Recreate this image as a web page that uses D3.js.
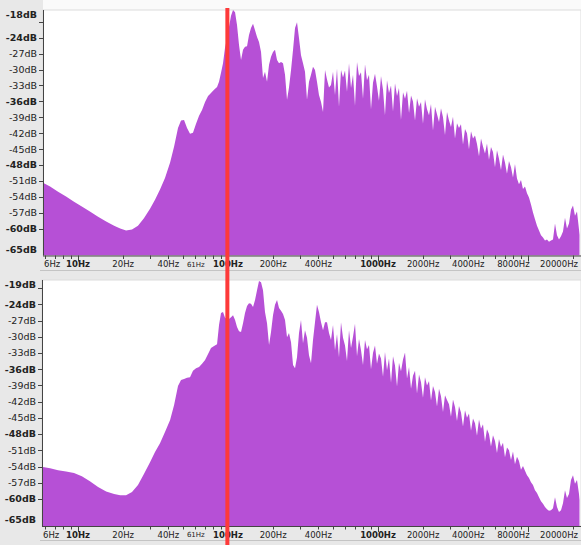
<!DOCTYPE html>
<html>
<head>
<meta charset="utf-8">
<script src="https://cdn.jsdelivr.net/npm/d3@7"></script>
<style>
  html, body { margin: 0; padding: 0; background: #fff; }
  svg { display: block; font-family: "DejaVu Sans", sans-serif; }
</style>
</head>
<body>
<svg id="chart" width="581" height="545"></svg>
<script>
// Frequency bins (Hz) shared by both spectra
const freqs = [
  5.84, 6.51, 7.36, 8.32, 9.40, 10.6, 12.0, 13.6, 15.4, 17.4, 19.1, 20.9, 22.9, 25.1, 27.5, 30.2, 32.6, 35.2, 38.0, 41.1,
  43.7, 46.4, 48.6, 50.9, 53.3, 55.8, 58.4, 61.2, 64.1, 67.1, 70.3, 73.6, 77.0, 80.7, 84.5, 87.1, 89.8, 92.6, 95.5, 98.5,
  101.5, 104.7, 108.0, 111.4, 114.8, 118.4, 122.1, 125.9, 129.8, 133.9,
  138.0, 142.3, 146.8, 151.4, 156.1, 160.9, 166.0, 171.1, 176.4, 182.0,
  187.7, 193.5, 199.5, 205.7, 212.2, 218.8, 225.6, 232.6, 239.9, 247.4,
  255.0, 263.1, 271.3, 279.7, 288.4, 297.4, 306.6, 316.2, 326.0, 336.2,
  346.7, 357.5, 368.6, 380.1, 391.9, 404.1, 416.9, 429.9, 443.3, 457.1,
  471.3, 486.0, 501.2, 516.8, 532.9, 549.5, 566.6, 584.3, 602.6, 621.3,
  640.7, 660.7, 681.3, 702.5, 724.4, 747.0, 770.3, 794.3, 819.0, 844.5,
  870.9, 898.0, 926.0, 954.9, 984.7, 1015, 1047, 1080, 1113, 1148,
  1184, 1221, 1259, 1298, 1339, 1380, 1423, 1468, 1514, 1561,
  1610, 1660, 1711, 1765, 1820, 1877, 1935, 1995, 2057, 2122,
  2188, 2256, 2326, 2399, 2474, 2551, 2630, 2712, 2797, 2884,
  2974, 3066, 3162, 3261, 3362, 3467, 3575, 3687, 3802, 3920,
  4042, 4169, 4299, 4433, 4571, 4714, 4861, 5012, 5168, 5329,
  5495, 5666, 5843, 6026, 6213, 6407, 6607, 6813, 7025, 7244,
  7470, 7703, 7943, 8190, 8446, 8709, 8980, 9261, 9550, 9848,
  10155, 10471, 10798, 11134, 11482, 11840, 12209, 12589, 12982, 13387,
  13804, 14234, 14678, 15136, 15608, 16095, 16596, 17113, 17647, 18197,
  18765, 19350, 19953, 20575, 21217, 21878, 22050
];

// Spectrum level (dB) of the upper track
const levelsUpper = [
  -51.3, -52.0, -53.0, -53.9, -54.9, -55.8, -56.7, -57.7, -58.6, -59.4, -59.9, -60.3, -60.1, -59.4, -58.0, -56.2, -54.5, -52.6, -50.4, -47.5,
  -44.5, -41.0, -39.6, -39.5, -41.0, -42.1, -41.9, -40.2, -38.7, -37.6, -36.1, -35.0, -34.4, -33.8, -33.3, -32.3, -30.6, -28.8, -25.9, -24.1,
  -22.0, -19.9, -18.8, -19.2, -21.6, -25.4, -28.2, -26.3, -25.7, -25.6,
  -23.5, -22.2, -21.4, -22.6, -23.9, -24.8, -26.7, -31.6, -30.4, -32.3,
  -29.1, -27.6, -26.7, -26.3, -28.2, -28.8, -28.6, -28.8, -31.0, -35.7,
  -33.4, -30.1, -26.3, -22.2, -21.1, -24.1, -27.3, -28.8, -30.4, -35.7,
  -32.3, -31.0, -29.5, -30.1, -32.3, -34.8, -36.1, -38.0, -30.1, -31.9,
  -33.4, -32.9, -30.4, -34.8, -29.8, -37.0, -30.1, -31.5, -30.2, -34.2,
  -28.8, -33.5, -31.0, -36.8, -28.6, -31.2, -30.5, -35.5, -29.0, -32.0,
  -31.0, -37.5, -32.5, -30.8, -33.2, -35.9, -31.2, -33.8, -38.6, -32.0,
  -34.4, -33.0, -37.9, -32.6, -35.0, -33.5, -39.5, -34.3, -35.5, -34.0,
  -38.2, -34.9, -36.0, -39.6, -35.4, -37.0, -36.1, -40.2, -35.6, -37.5,
  -38.6, -36.5, -41.5, -37.0, -38.4, -39.9, -37.3, -39.0, -42.3, -38.0,
  -39.6, -40.8, -38.9, -43.0, -40.1, -41.0, -40.3, -44.1, -41.2, -42.0,
  -45.0, -41.6, -43.0, -42.4, -44.0, -46.3, -43.0, -44.5, -45.8, -43.9,
  -47.0, -44.6, -45.5, -48.4, -45.2, -46.8, -48.9, -46.0, -47.5, -49.6,
  -47.2, -48.4, -50.3, -47.8, -50.5, -51.6, -50.8, -52.5, -52.0, -53.3,
  -54.1, -55.4, -56.9, -58.2, -59.4, -60.3, -61.2, -61.6, -62.2, -62.0,
  -62.4, -62.2, -62.0, -59.0, -61.2, -62.0, -61.4, -60.5, -57.9, -59.9,
  -59.0, -56.4, -55.6, -57.5, -56.7, -60.1, -61.1
];

// Spectrum level (dB) of the lower track
const levelsLower = [
  -54.1, -54.3, -54.7, -54.9, -55.2, -55.8, -56.7, -57.8, -58.6, -59.1, -59.3, -59.3, -58.7, -57.4, -55.4, -53.2, -51.3, -49.7, -47.6, -45.4,
  -42.6, -39.1, -38.0, -37.8, -37.6, -37.5, -36.3, -35.8, -35.6, -35.0, -34.3, -33.2, -32.1, -31.7, -31.4, -27.8, -25.6, -25.4, -26.5, -26.7,
  -26.7, -26.4, -26.0, -26.9, -28.2, -29.0, -29.1, -27.5, -25.6, -24.3,
  -23.8, -23.9, -24.5, -23.2, -21.4, -19.7, -19.9, -21.4, -25.4, -27.5,
  -31.5, -29.1, -26.0, -24.1, -23.2, -24.7, -25.2, -25.8, -26.9, -30.1,
  -29.3, -31.0, -35.2, -35.8, -33.8, -29.3, -26.9, -31.2, -28.8, -30.2,
  -33.4, -34.9, -30.6, -27.3, -24.1, -25.4, -27.3, -28.8, -27.3, -27.3,
  -29.3, -30.6, -27.8, -32.5, -29.5, -33.8, -27.3, -30.2, -31.6, -34.5,
  -28.8, -32.1, -30.0, -27.6, -33.6, -30.4, -32.5, -35.2, -30.6, -32.3,
  -31.5, -36.0, -33.0, -31.6, -35.0, -33.1, -34.0, -37.4, -32.8, -36.2,
  -34.0, -38.5, -33.6, -35.3, -39.2, -34.8, -36.4, -34.2, -32.9, -37.7,
  -35.6, -39.6, -37.2, -36.3, -40.5, -37.0, -38.4, -41.3, -37.5, -39.0,
  -38.2, -41.8, -39.1, -40.2, -42.9, -39.6, -41.0, -43.9, -40.8, -41.7,
  -42.5, -44.8, -41.6, -43.0, -45.6, -42.8, -44.0, -46.6, -43.6, -45.0,
  -44.2, -47.4, -45.1, -46.0, -48.3, -45.3, -47.0, -46.2, -49.4, -47.1,
  -48.0, -50.3, -48.2, -49.3, -51.5, -48.9, -50.4, -49.6, -52.3, -50.5,
  -51.0, -52.8, -51.2, -53.6, -52.2, -53.0, -54.6, -53.9, -54.8, -55.6,
  -56.1, -56.9, -57.4, -58.4, -58.9, -59.7, -60.4, -60.9, -61.5, -61.9,
  -62.2, -62.1, -61.7, -59.7, -61.5, -62.4, -62.1, -60.8, -58.4, -59.8,
  -59.1, -56.5, -55.6, -57.2, -56.5, -59.1, -60.2
];

// Axis ticks and labels
const dbTicks = [-21, -24, -27, -30, -33, -36, -39, -42, -45, -48, -51, -54, -57, -60];
const dbLabels = [-24, -27, -30, -33, -36, -39, -42, -45, -48, -51, -54, -57, -60];
const dbBold = [-24, -36, -48, -60];
const hzTicks = [6, 7, 8, 9, 10, 20, 30, 40, 50, 60, 70, 80, 90, 100, 200, 300, 400, 500, 600, 700, 800, 900,
  1000, 2000, 3000, 4000, 5000, 6000, 7000, 8000, 9000, 10000, 20000];
const hzMajor = [10, 100, 1000, 10000];
const hzLabels = [6, 10, 20, 40, 61, 100, 200, 400, 1000, 2000, 4000, 8000, 20000];
const hzBold = [10, 100, 1000];
const hzSmall = [61];
const markerHz = 99;

const panels = [
  { levels: levelsUpper, left: 43, top: 10, bottom: 255.5, dbTop: -18.8, topText: "-18dB", sep: 270.5 },
  { levels: levelsLower, left: 42, top: 280, bottom: 526, dbTop: -19.5, topText: "-19dB", sep: 540.5 }
];

const W = 581, H = 545;
const fillColor = "#b650d6";
const svg = d3.select("#chart");

svg.append("rect").attr("width", W).attr("height", H).attr("fill", "#e8e8e8");
svg.append("rect").attr("x", 43).attr("y", 0).attr("width", W - 43).attr("height", 10).attr("fill", "#fafafa");

const x = d3.scaleLog().domain([5.84, 22050]).range([43, 579.5]);

panels.forEach((p, pi) => {
  const y = d3.scaleLinear().domain([-65, p.dbTop]).range([p.bottom, p.top]);
  const g = svg.append("g");

  g.append("rect")
    .attr("x", p.left).attr("y", p.top)
    .attr("width", W - p.left).attr("height", p.bottom - p.top)
    .attr("fill", "#fff").attr("stroke", "#dcdcdc").attr("stroke-width", 1);

  const clipId = "clip" + pi;
  svg.append("clipPath").attr("id", clipId)
    .append("rect").attr("x", p.left).attr("y", p.top)
    .attr("width", W - p.left).attr("height", p.bottom - p.top);

  const area = d3.area()
    .x((d, i) => x(freqs[i]))
    .y0(p.bottom)
    .y1(d => y(d));

  g.append("path")
    .datum(p.levels)
    .attr("d", area)
    .attr("fill", fillColor)
    .attr("clip-path", `url(#${clipId})`);

  // separator line under the frequency ruler
  g.append("line")
    .attr("x1", 40).attr("x2", W).attr("y1", p.sep).attr("y2", p.sep)
    .attr("stroke", "#c4c4c4").attr("stroke-width", 1);

  // vertical dB ruler
  g.append("line")
    .attr("x1", p.left + 0.5).attr("x2", p.left + 0.5)
    .attr("y1", p.top).attr("y2", p.bottom)
    .attr("stroke", "#444").attr("stroke-width", 1);

  g.selectAll(".dbtick").data(dbTicks).enter().append("line")
    .attr("x1", p.left - 4).attr("x2", p.left)
    .attr("y1", d => Math.round(y(d)) + 0.5).attr("y2", d => Math.round(y(d)) + 0.5)
    .attr("stroke", "#444");

  g.selectAll(".dblabel").data(dbLabels).enter().append("text")
    .attr("x", p.left - 6).attr("y", d => y(d)).attr("dy", "0.35em")
    .attr("text-anchor", "end").attr("font-size", 9.5)
    .attr("font-weight", d => dbBold.includes(d) ? "bold" : "normal")
    .attr("fill", "#222")
    .text(d => d + "dB");

  g.append("text")
    .attr("x", p.left - 6).attr("y", p.top + 5).attr("dy", "0.35em")
    .attr("text-anchor", "end").attr("font-size", 9.5).attr("font-weight", "bold")
    .attr("fill", "#222").text(p.topText);

  g.append("text")
    .attr("x", p.left - 6).attr("y", p.bottom - 6).attr("dy", "0.35em")
    .attr("text-anchor", "end").attr("font-size", 9.5).attr("font-weight", "bold")
    .attr("fill", "#222").text("-65dB");

  // frequency ruler
  g.append("line")
    .attr("x1", p.left).attr("x2", W)
    .attr("y1", p.bottom + 0.5).attr("y2", p.bottom + 0.5)
    .attr("stroke", "#444");

  g.selectAll(".hztick").data(hzTicks).enter().append("line")
    .attr("x1", d => Math.round(x(d)) + 0.5).attr("x2", d => Math.round(x(d)) + 0.5)
    .attr("y1", p.bottom).attr("y2", d => p.bottom + (hzMajor.includes(d) ? 6 : 3.5))
    .attr("stroke", "#444");

  g.selectAll(".hzlabel").data(hzLabels).enter().append("text")
    .attr("y", p.bottom + 9).attr("dy", "0.35em")
    .attr("text-anchor", "middle")
    .attr("font-size", d => hzSmall.includes(d) ? 7 : 8.5)
    .attr("font-weight", d => hzBold.includes(d) ? "bold" : "normal")
    .attr("fill", "#222")
    .text(d => d + "Hz")
    .attr("x", function (d) {
      const half = this.getComputedTextLength() / 2;
      return Math.max(p.left + half + 1, Math.min(W - half - 3, x(d)));
    });
});

// marker at the selected frequency
svg.append("rect")
  .attr("x", x(markerHz) - 2).attr("y", 8)
  .attr("width", 4).attr("height", H - 8)
  .attr("fill", "#fd3a3a");
</script>
</body>
</html>
